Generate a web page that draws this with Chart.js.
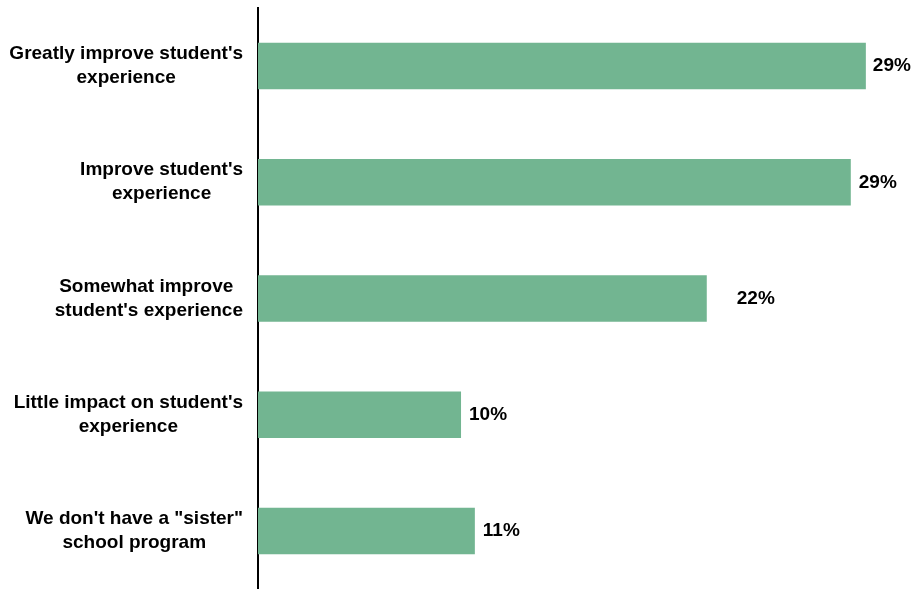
<!DOCTYPE html>
<html>
<head>
<meta charset="utf-8">
<script src="https://cdn.jsdelivr.net/npm/chart.js@4.4.1/dist/chart.umd.min.js"></script>
<style>
  html, body { margin: 0; padding: 0; background: #fff; }
  #wrap { width: 914px; height: 589px; position: relative; }
</style>
</head>
<body>
<div id="wrap"><canvas id="chart"></canvas></div>
<script>
// categories, each one split into its lines
const categories = [
    ["Greatly improve student's", "experience"],
    ["Improve student's", "experience"],
    ["Somewhat improve ", "student's experience"],
    ["Little impact on student's", "experience"],
    ["We don't have a \"sister\"", "school program"],
];
// share of answers, in percent
const shares = [29.46, 28.73, 21.75, 9.84, 10.51];
const shareLabels = ["29%", "29%", "22%", "10%", "11%"];

const FONT = "bold 19px 'Liberation Sans', Arial, sans-serif";

// draws the two-line category names and the value labels
const labelPlugin = {
    id: "labels",
    afterDraw(chart, args, opts) {
        const ctx = chart.ctx;
        const yScale = chart.scales.y;
        const meta = chart.getDatasetMeta(0);
        ctx.save();
        ctx.font = FONT;
        ctx.fillStyle = "#000";

        // category names: block right-aligned, lines centred in the block
        ctx.textAlign = "center";
        ctx.textBaseline = "alphabetic";
        categories.forEach((lines, i) => {
            const yc = yScale.getPixelForValue(i);
            const w = Math.max(...lines.map(l => ctx.measureText(l).width));
            const cx = opts.labelRight - w / 2;
            ctx.fillText(lines[0], cx, yc - 7);
            ctx.fillText(lines[1], cx, yc + 17);
        });

        // value labels at the end of each bar
        ctx.textAlign = "left";
        ctx.textBaseline = "middle";
        meta.data.forEach((bar, i) => {
            ctx.fillText(shareLabels[i], bar.x + opts.gaps[i], bar.y);
        });
        ctx.restore();
    },
};

new Chart(document.getElementById("chart"), {
    type: "bar",
    data: {
        labels: categories.map(c => c.join(" ")),
        datasets: [
            {
                data: shares,
                backgroundColor: "#72b591",
                barPercentage: 0.4,
                categoryPercentage: 1.0,
            },
        ],
    },
    options: {
        indexAxis: "y",
        responsive: true,
        maintainAspectRatio: false,
        animation: false,
        layout: { padding: { top: 8, right: 37, bottom: 0, left: 0 } },
        plugins: {
            legend: { display: false },
            tooltip: { enabled: false },
            labels: { labelRight: 243, gaps: [7, 8, 30, 8, 8] },
        },
        scales: {
            x: {
                display: false,
                min: 0,
                max: 30,
            },
            y: {
                grid: { display: false, drawTicks: false },
                border: { display: true, color: "#000", width: 2 },
                ticks: { display: false },
                afterFit: (scale) => { scale.width = 258; },
            },
        },
    },
    plugins: [labelPlugin],
});
</script>
</body>
</html>
